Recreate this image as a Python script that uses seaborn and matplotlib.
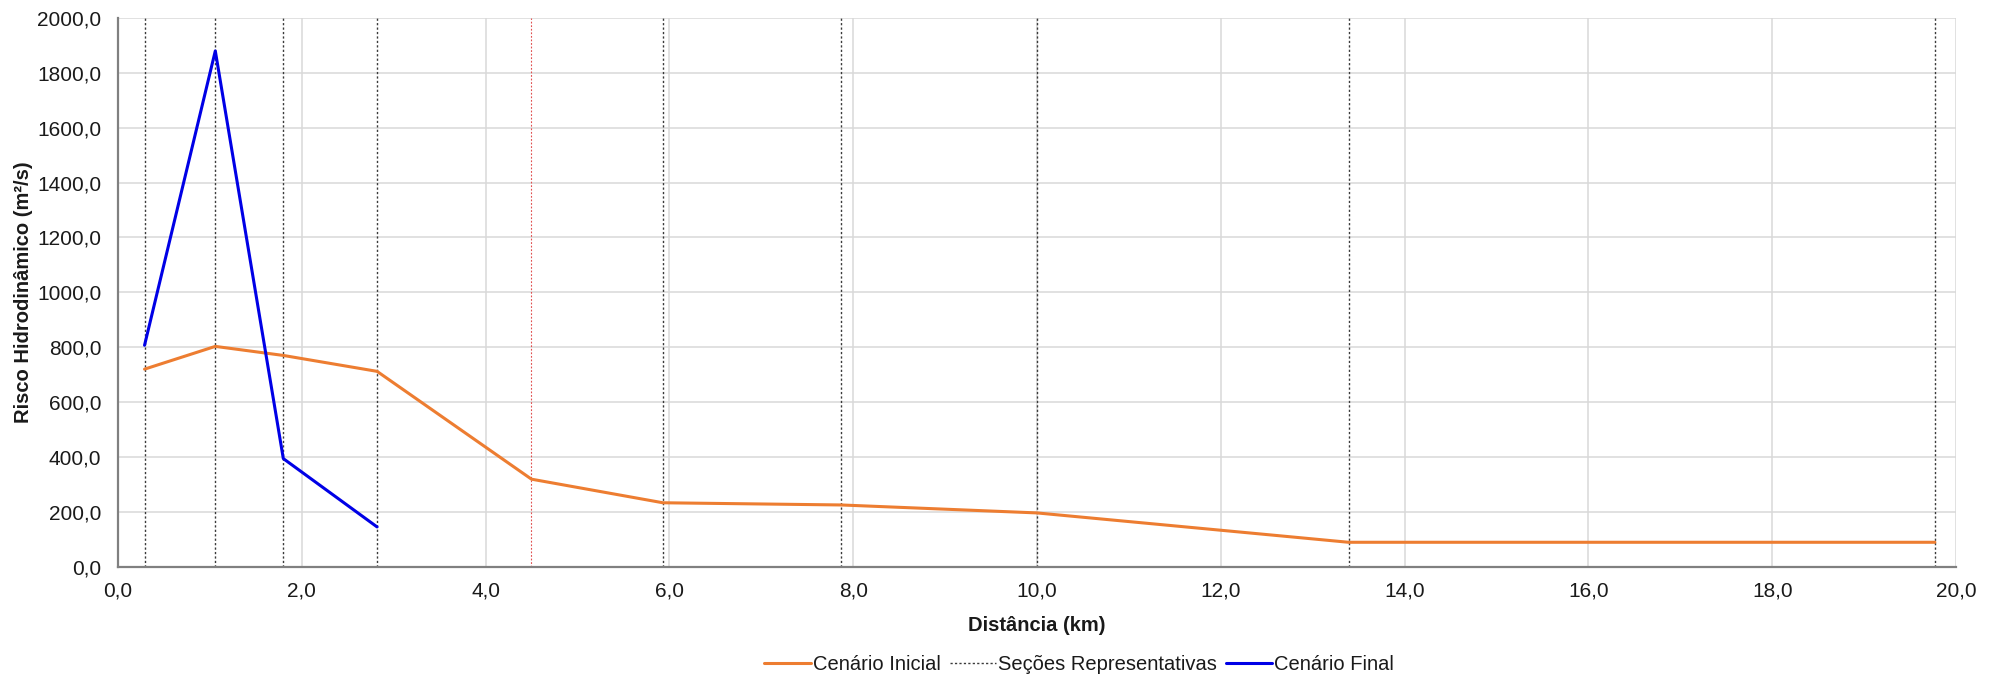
import matplotlib
matplotlib.use("Agg")
import matplotlib.pyplot as plt
import matplotlib.ticker as mticker
import seaborn as sns
import pandas as pd

# Hydrodynamic risk along the river reach (km vs m²/s)
dist_inicial = [0.29, 1.06, 1.80, 2.82, 4.50, 5.93, 7.87, 10.00, 13.39, 19.77]
risco_inicial = [720, 803, 770, 712, 319, 233, 225, 196, 89, 89]
dist_final = [0.29, 1.06, 1.80, 2.82]
risco_final = [807, 1880, 394, 145]
secoes_km = [0.29, 1.06, 1.80, 2.82, 5.93, 7.87, 10.00, 13.39, 19.77]
marco_km = [4.50]

x_ticks = [0, 2, 4, 6, 8, 10, 12, 14, 16, 18, 20]
y_ticks = [0, 200, 400, 600, 800, 1000, 1200, 1400, 1600, 1800, 2000]

sns.set_theme(style="whitegrid")
plt.rcParams['font.family'] = ['Liberation Sans', 'DejaVu Sans']

COR_INICIAL = '#ED7D31'
COR_FINAL = '#0000E6'
COR_TEXTO = '#1a1a1a'

fig = plt.figure(figsize=(19.98, 6.76), dpi=100)
ax = fig.add_axes([0.059, 0.1617, 0.920, 0.8117])

df_ini = pd.DataFrame({'km': dist_inicial, 'risco': risco_inicial})
df_fin = pd.DataFrame({'km': dist_final, 'risco': risco_final})

# representative cross-sections and reference mark
sec_line = None
for i, xv in enumerate(secoes_km):
    ln = ax.axvline(xv, color='#3a3a3a', lw=1.0, linestyle=(0, (1.6, 1.6)), zorder=2)
    if i == 0:
        sec_line = ln
for xv in marco_km:
    ax.axvline(xv, color='#E05050', lw=0.8, linestyle=(0, (1.6, 1.6)), zorder=2)

sns.lineplot(data=df_ini, x='km', y='risco', ax=ax, color=COR_INICIAL, lw=2.2,
             zorder=3, estimator=None, sort=False)
sns.lineplot(data=df_fin, x='km', y='risco', ax=ax, color=COR_FINAL, lw=2.2,
             zorder=4, estimator=None, sort=False)
line_ini, line_fin = ax.get_lines()[-2], ax.get_lines()[-1]

ax.set_xlim(0, 20)
ax.set_ylim(0, 2000)
ax.set_xticks(x_ticks)
ax.set_yticks(y_ticks)
fmt = mticker.FuncFormatter(lambda v, p: f"{v:.1f}".replace('.', ','))
ax.xaxis.set_major_formatter(fmt)
ax.yaxis.set_major_formatter(fmt)

ax.set_facecolor('white')
ax.grid(True, color='#D9D9D9', lw=1.1)
ax.set_axisbelow(True)
for s in ['top', 'right']:
    ax.spines[s].set_visible(False)
for s in ['left', 'bottom']:
    ax.spines[s].set_color('#808080')
    ax.spines[s].set_linewidth(1.6)
    ax.spines[s].set_zorder(5)

ax.tick_params(axis='both', length=0, labelsize=15, colors=COR_TEXTO)
ax.tick_params(axis='y', pad=12)
ax.tick_params(axis='x', pad=11)

ax.set_xlabel('Distância (km)', fontsize=14.5, fontweight='bold', color=COR_TEXTO, labelpad=11)
ax.set_ylabel('Risco Hidrodinâmico (m²/s)', fontsize=14.5, fontweight='bold', color=COR_TEXTO, labelpad=2.5)

fig.legend([line_ini, sec_line, line_fin],
           ['Cenário Inicial', 'Seções Representativas', 'Cenário Final'],
           loc='lower left', bbox_to_anchor=(0.3735, -0.024), ncol=3, frameon=False,
           fontsize=14.5, handlelength=2.3, handletextpad=0.1, columnspacing=0.45,
           labelcolor=COR_TEXTO)

fig.savefig('out.png', dpi=100, facecolor='white')
